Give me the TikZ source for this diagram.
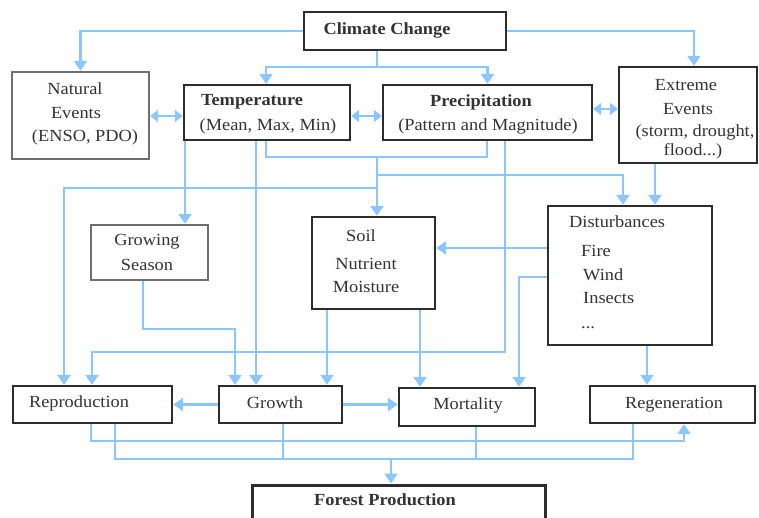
\documentclass[tikz,border=0pt]{standalone}
\usepackage{fontspec}
\setmainfont[FakeStretch=1.08]{Liberation Serif}
\usetikzlibrary{arrows.meta}
\definecolor{flow}{RGB}{140,198,255}
\definecolor{frame}{RGB}{45,45,45}
\definecolor{frameg}{RGB}{110,110,110}
\begin{document}
\begin{tikzpicture}[x=1pt,y=-1pt,
  box/.style={draw=frame, line width=2.4pt, rectangle, inner sep=0pt, fill=white},
  gbox/.style={box, draw=frameg},
  lbl/.style={inner sep=0pt, text=black!80, font=\fontsize{17}{20}\selectfont},
  blbl/.style={lbl, font=\fontsize{17}{20}\selectfont\bfseries},
  line/.style={draw=flow, line width=2.6pt},
  arr/.style={line, -{Triangle[width=13pt,length=10pt]}},
  dbl/.style={line, {Triangle[width=12pt,length=8pt]}-{Triangle[width=12pt,length=8pt]}},
]
\useasboundingbox (0,0) rectangle (759,517);
\clip (0,0) rectangle (759,517);

% boxes
\node[box, minimum width=202pt, minimum height=38pt] (cc) at (405,31) {};
\node[gbox, minimum width=137pt, minimum height=87pt] (ne) at (80.5,115.5) {};
\node[box, minimum width=166pt, minimum height=55pt] (temp) at (267,112.5) {};
\node[box, minimum width=209pt, minimum height=55pt] (prec) at (487.5,112.5) {};
\node[box, minimum width=138pt, minimum height=96pt] (ext) at (688,115) {};
\node[gbox, minimum width=117pt, minimum height=55pt] (gs) at (149.5,252.5) {};
\node[box, minimum width=123pt, minimum height=92pt] (soil) at (373.5,263) {};
\node[box, minimum width=164pt, minimum height=139pt] (dist) at (630,275.5) {};
\node[box, minimum width=159pt, minimum height=37pt] (repro) at (92.5,404.5) {};
\node[box, minimum width=123pt, minimum height=37pt] (growth) at (280.5,404.5) {};
\node[box, minimum width=136pt, minimum height=38pt] (mort) at (467,407) {};
\node[box, minimum width=165pt, minimum height=37pt] (regen) at (672.5,404.5) {};
\node[box, line width=3pt, minimum width=293pt, minimum height=50pt] (fp) at (398.5,510) {};

% texts
\node[blbl] (tcc) at (387,30) {Climate Change};
\node[lbl] (tne1) at (75,89) {Natural};
\node[lbl] (tne2) at (76,113) {Events};
\node[lbl] (tne3) at (85,137) {(ENSO, PDO)};
\node[blbl] (tt1) at (252,102) {Temperature};
\node[lbl] (tt2) at (268,126) {(Mean, Max, Min)};
\node[blbl] (tp1) at (481,102) {Precipitation};
\node[lbl] (tp2) at (488,126) {(Pattern and Magnitude)};
\node[lbl] (te1) at (686,85) {Extreme};
\node[lbl] (te2) at (688,109) {Events};
\node[lbl] (te3) at (695,132) {(storm, drought,};
\node[lbl] (te4) at (693,151) {flood...)};
\node[lbl] (tg1) at (147,242) {Growing};
\node[lbl] (tg2) at (147,265) {Season};
\node[lbl] (ts1) at (361,236) {Soil};
\node[lbl] (ts2) at (366,264) {Nutrient};
\node[lbl] (ts3) at (366,287) {Moisture};
\node[lbl, anchor=west] (td1) at (569,222) {Disturbances};
\node[lbl, anchor=west] (td2) at (581,251) {Fire};
\node[lbl, anchor=west] (td3) at (583,275) {Wind};
\node[lbl, anchor=west] (td4) at (583,298) {Insects};
\node[lbl, anchor=base west] (td5) at (581,328) {...};
\node[lbl] (tr) at (79,403) {Reproduction};
\node[lbl] (tgr) at (275,403) {Growth};
\node[lbl] (tm) at (468,405) {Mortality};
\node[lbl] (trg) at (674,405) {Regeneration};
\node[blbl] (tfp) at (385,500) {Forest Production};

% connectors
\coordinate (j1) at (377,67);
\coordinate (j2) at (377,157);
\draw[arr] (cc.west) -| (ne.north);
\draw[arr] (cc.east) -| (ext.north -| 694,0);
\draw[line] (cc.south -| j1) -- (j1);
\draw[arr] (j1) -| (temp.north -| 266,0);
\draw[arr] (j1) -| (prec.north);
\draw[dbl] (ne.east |- 0,116) -- (temp.west |- 0,116);
\draw[dbl] (temp.east |- 0,116) -- (prec.west |- 0,116);
\draw[dbl] (prec.east |- 0,109) -- (ext.west |- 0,109);

\draw[arr] (temp.south -| 185,0) -- (gs.north -| 185,0);
\draw[arr] (temp.south -| 256,0) -- (growth.north -| 256,0);
\draw[line] (temp.south -| 266,0) -- (266,157) -| (prec.south -| 487,0);
\draw[arr] (j2) -- (soil.north -| j2);
\draw[arr] (377,175) -| (dist.north -| 623,0);
\draw[arr] (377,188) -| (repro.north -| 64,0);
\draw[arr] (prec.south -| 505,0) |- (92,352) -- (repro.north -| 92,0);

\draw[arr] (ext.south -| 655,0) -- (dist.north -| 655,0);
\draw[arr] (dist.west |- 0,248) -- (soil.east |- 0,248);
\draw[arr] (dist.west |- 0,277) -| (mort.north -| 519,0);
\draw[arr] (dist.south -| 647,0) -- (regen.north -| 647,0);

\draw[arr] (gs.south -| 143,0) |- (235,329) -- (growth.north -| 235,0);
\draw[arr] (soil.south -| 327,0) -- (growth.north -| 327,0);
\draw[arr] (soil.south -| 420,0) -- (mort.north -| 420,0);

\draw[arr] (growth.west) -- (repro.east);
\draw[arr] (growth.east) -- (mort.west |- growth.east);

\draw[arr] (repro.south -| 91,0) |- (684,441) -- (regen.south -| 684,0);
\draw[line] (repro.south -| 115,0) |- (633,459) -- (regen.south -| 633,0);
\draw[line] (growth.south -| 283,0) -- (283,459);
\draw[line] (mort.south -| 476,0) -- (476,459);
\draw[arr] (391,459) -- (fp.north -| 391,0);
\end{tikzpicture}
\end{document}
